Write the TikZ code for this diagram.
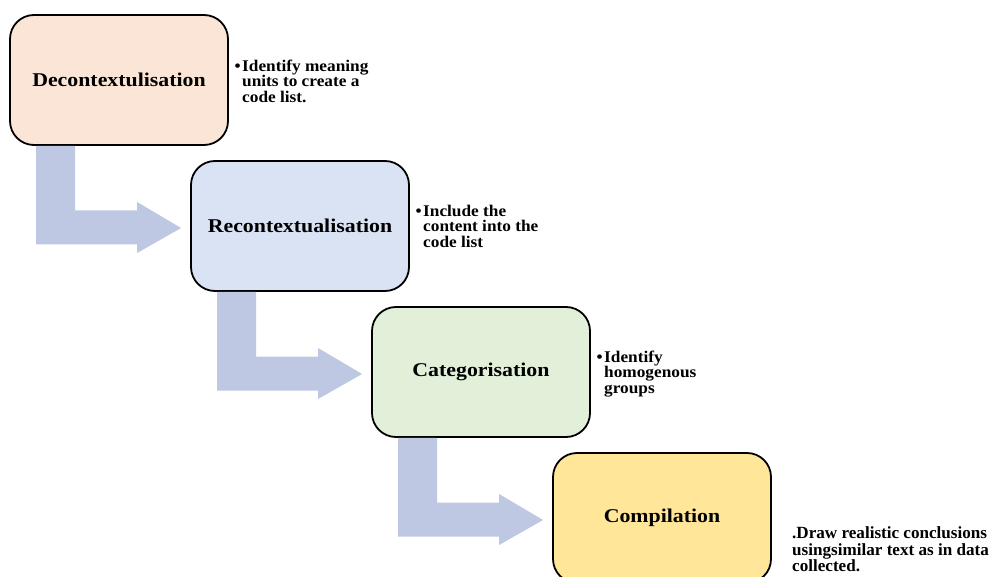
\documentclass[tikz,border=0pt]{standalone}
\usepackage{fontspec}
\setmainfont{Liberation Serif}
\newfontfamily\labelfont{Liberation Serif}[FakeStretch=1.12]
\newfontfamily\notefont{Liberation Serif}[FakeStretch=1.06]
\usetikzlibrary{calc}

\definecolor{peach}{HTML}{FBE5D6}
\definecolor{paleblue}{HTML}{DAE3F3}
\definecolor{palegreen}{HTML}{E2F0D9}
\definecolor{paleyellow}{HTML}{FFE699}
\definecolor{flowblue}{HTML}{BFC8E3}

\begin{document}
\begin{tikzpicture}[x=1pt, y=-1pt,
    stepbox/.style={draw=black, line width=1.8pt, rounded corners=24pt,
      minimum width=218pt, minimum height=130pt,
      font=\labelfont\bfseries\fontsize{19.5}{22}\selectfont},
    notetext/.style={anchor=north west, align=left, inner sep=0pt,
      font=\notefont\bfseries\fontsize{16.3}{15.7}\selectfont},
    flowfill/.style={fill=flowblue}]
  \clip (0,0) rectangle (993,577);

  % Steps
  \node[stepbox, fill=peach] (decon) at (119,80) {Decontextulisation};
  \node[stepbox, fill=paleblue] (recon) at (300,226) {Recontextualisation};
  \node[stepbox, fill=palegreen] (categ) at (481,372) {Categorisation};
  \node[stepbox, fill=paleyellow] (compil) at (662,518) {Compilation};

  % Notes beside each step
  \node[notetext] (deconnote) at (242,59.6) {\llap{\textbullet\hspace{1.5pt}}Identify meaning\\units to create a\\code list.};
  \node[notetext] (reconnote) at (423,204.6) {\llap{\textbullet\hspace{1.5pt}}Include the\\content into the\\code list};
  \node[notetext] (categnote) at (604,350.4) {\llap{\textbullet\hspace{1.5pt}}Identify\\homogenous\\groups};
  \node[notetext, font=\bfseries\fontsize{17.1}{16.6}\selectfont] (compilnote) at (792,526.5)
    {.Draw realistic conclusions\\usingsimilar text as in data\\collected.};

  % Bent arrows between steps
  \foreach \a/\b in {decon/recon, recon/categ, categ/compil}{
    \coordinate (s1) at ($(\a.south west)+(27,0)$);
    \coordinate (s2) at ($(\a.south west)+(66,0)$);
    \coordinate (h1) at ($(\b.west)+(-53,-15.5)$);
    \coordinate (h2) at ($(\b.west)+(-53,-24)$);
    \coordinate (tip) at ($(\b.west)+(-9,2)$);
    \coordinate (h3) at ($(\b.west)+(-53,27)$);
    \coordinate (h4) at ($(\b.west)+(-53,18.5)$);
    \fill[flowfill] (s1) -- (s2) |- (h1) -- (h2) -- (tip) -- (h3) -- (h4) -| (s1) -- cycle;
  }
\end{tikzpicture}
\end{document}
